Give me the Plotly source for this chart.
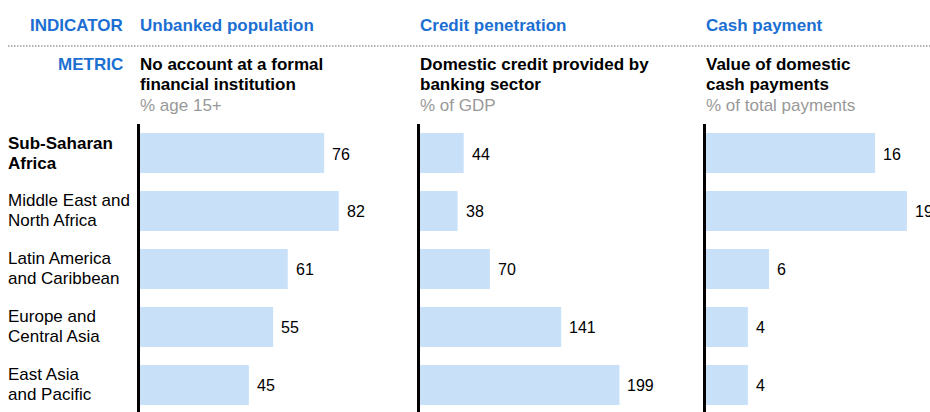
import plotly.graph_objects as go

# Data
regions = ["Sub-Saharan Africa", "Middle East and North Africa", "Latin America and Caribbean",
           "Europe and Central Asia", "East Asia and Pacific"]
region_lines = [["Sub-Saharan", "Africa"], ["Middle East and", "North Africa"], ["Latin America", "and Caribbean"],
                ["Europe and", "Central Asia"], ["East Asia", "and Pacific"]]
indicators = ["Unbanked population", "Credit penetration", "Cash payment"]
metric_lines = [["No account at a formal", "financial institution"],
                ["Domestic credit provided by", "banking sector"],
                ["Value of domestic", "cash payments"]]
units = ["% age 15+", "% of GDP", "% of total payments"]
unbanked = [76, 82, 61, 55, 45]
credit = [44, 38, 70, 141, 199]
cash = [16, 19, 6, 4, 4]

W, H = 930, 412
BLUE = "#1C6FD2"
BAR = "#C8E0F8"
FONT = "Liberation Sans, Arial, sans-serif"


def px(s):
    # screen x -> paper x
    return s / W


def py(s):
    # screen y -> paper y
    return 1 - s / H


# panel geometry in screen px: axis x, right edge, px per unit
panels = [(139.5, 400, 2.43), (419.5, 700, 1.005), (705.5, W, 10.6)]
series = [unbanked, credit, cash]

fig = go.Figure()
for i, (vals, (x0, x1, scale)) in enumerate(zip(series, panels)):
    sfx = "" if i == 0 else str(i + 1)
    fig.add_trace(go.Bar(
        x=vals, y=regions, orientation="h", marker=dict(color=BAR, line=dict(width=0)),
        xaxis="x" + sfx, yaxis="y" + sfx, showlegend=False, hoverinfo="x+y",
    ))
    fig.layout["xaxis" + sfx] = dict(domain=[px(x0), px(x1)], range=[0, (x1 - x0) / scale],
                                     visible=False, anchor="y" + sfx)
    fig.layout["yaxis" + sfx] = dict(domain=[0, py(124)], range=[4.466, -0.5], anchor="x" + sfx,
                                     showticklabels=False, ticks="", showgrid=False, zeroline=False,
                                     showline=True, linecolor="black", linewidth=3)
    # value labels
    for r, v in zip(regions, vals):
        fig.add_annotation(x=v, y=r, xref="x" + sfx, yref="y" + sfx, text=str(v), showarrow=False,
                           xanchor="left", xshift=6, yshift=-1, font=dict(size=16, color="black"))
    # headers
    hx = px(x0 - 1.5)
    fig.add_annotation(x=hx, y=py(26), xref="paper", yref="paper", text="<b>%s</b>" % indicators[i],
                       showarrow=False, xanchor="left", yanchor="middle", font=dict(size=17, color=BLUE))
    for k, line in enumerate(metric_lines[i]):
        fig.add_annotation(x=hx, y=py(64.5 + 20 * k), xref="paper", yref="paper", text="<b>%s</b>" % line,
                           showarrow=False, xanchor="left", yanchor="middle",
                           font=dict(size=17, color="black"))
    fig.add_annotation(x=hx, y=py(105), xref="paper", yref="paper", text=units[i],
                       showarrow=False, xanchor="left", yanchor="middle", font=dict(size=17, color="#999999"))

# region labels, two lines each
for j, (r, lines) in enumerate(zip(regions, region_lines)):
    for k, line in enumerate(lines):
        fig.add_annotation(x=px(5.5), y=r, xref="paper", yref="y", text=("<b>%s</b>" % line) if j == 0 else line,
                           showarrow=False, xanchor="left", yanchor="middle", yshift=10 - 20 * k,
                           font=dict(size=17, color="black"))

fig.add_annotation(x=px(125), y=py(26), xref="paper", yref="paper", text="<b>INDICATOR</b>",
                   showarrow=False, xanchor="right", yanchor="middle", font=dict(size=17, color=BLUE))
fig.add_annotation(x=px(125), y=py(64.5), xref="paper", yref="paper", text="<b>METRIC</b>",
                   showarrow=False, xanchor="right", yanchor="middle", font=dict(size=17, color=BLUE))

fig.add_shape(type="line", xref="paper", yref="paper", x0=px(8), x1=1, y0=py(46), y1=py(46),
              line=dict(color="#9a9a9a", width=1.5, dash="1.5px,1.5px"))

fig.update_layout(
    width=W, height=H, margin=dict(l=0, r=0, t=0, b=0),
    plot_bgcolor="white", paper_bgcolor="white",
    bargap=0.31, font=dict(family=FONT, size=17, color="black"),
)

# drop the page's default body margin so the 930x412 figure fills the window
fig.write_html("out.html", config={"displayModeBar": False},
               post_script="document.body.style.margin='0';document.body.style.overflow='hidden';")
